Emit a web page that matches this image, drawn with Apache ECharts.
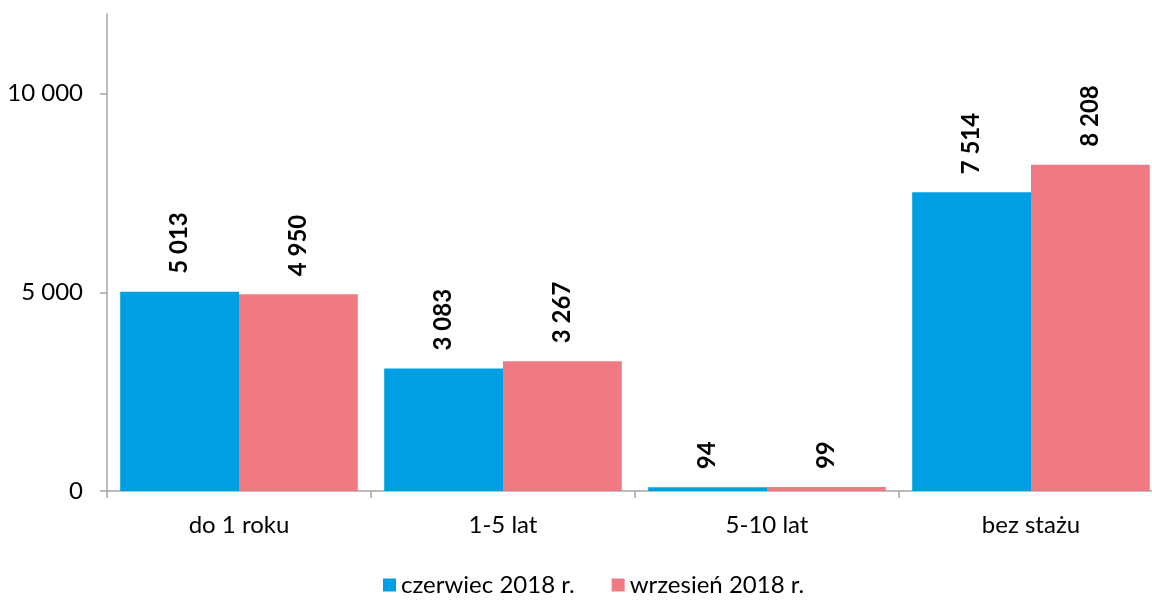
<!DOCTYPE html>
<html>
<head>
<meta charset="utf-8">
<script src="https://cdn.jsdelivr.net/npm/echarts@6/dist/echarts.min.js"></script>
<style>
  html, body { margin: 0; padding: 0; background: #fff; }
  #chart { width: 1152px; height: 603px; }
</style>
</head>
<body>
<div id="chart"></div>
<script>
// dane
var categories = ['do 1 roku', '1-5 lat', '5-10 lat', 'bez stażu']
var czerwiec = [5013, 3083, 94, 7514]
var wrzesien = [4950, 3267, 99, 8208]
var seriesNames = ['czerwiec 2018 r.', 'wrzesień 2018 r.']
var yTicks = [0, 5000, 10000]

var FONT = 'Lato'
var grey = '#A6A6A6'

// 5 013 -> spacja jako separator tysięcy
function fmt (v) {
  return String(v).replace(/\B(?=(\d{3})+(?!\d))/g, ' ')
}

var label = {
  show: true,
  position: 'top',
  rotate: 90,
  align: 'left',
  verticalAlign: 'middle',
  distance: 18,
  fontFamily: FONT,
  fontWeight: 'bold',
  fontSize: 24,
  color: '#000',
  formatter: function (p) { return fmt(p.value) }
}

var chart = echarts.init(document.getElementById('chart'))
chart.setOption({
  animation: false,
  color: ['#009FE3', '#F07A83'],
  grid: { left: 107, right: -11, top: 14, bottom: 112, containLabel: false, outerBoundsMode: 'none' },
  legend: {
    bottom: 1,
    left: 378,
    itemWidth: 13,
    itemHeight: 13,
    itemGap: 37,
    icon: 'rect',
    textStyle: { fontFamily: FONT, fontSize: 24, color: '#000' },
    data: seriesNames
  },
  xAxis: {
    type: 'category',
    data: categories,
    axisLine: { lineStyle: { color: grey, width: 1.5 } },
    axisTick: { show: true, length: 7, lineStyle: { color: grey, width: 1.5 } },
    axisLabel: { margin: 22, fontFamily: FONT, fontSize: 24, color: '#000' }
  },
  yAxis: {
    type: 'value',
    min: 0,
    max: 12000,
    splitLine: { show: false },
    axisLine: { show: true, lineStyle: { color: grey, width: 1.5 } },
    axisTick: { show: true, length: 7, customValues: yTicks, lineStyle: { color: grey, width: 1.5 } },
    axisLabel: {
      customValues: yTicks,
      margin: 24,
      fontFamily: FONT,
      fontSize: 24,
      color: '#000',
      formatter: function (v) { return fmt(v) }
    }
  },
  series: [
    { name: seriesNames[0], type: 'bar', data: czerwiec, barGap: '0%', barCategoryGap: '10%', label: label },
    { name: seriesNames[1], type: 'bar', data: wrzesien, barGap: '0%', barCategoryGap: '10%', label: label }
  ]
})
</script>
</body>
</html>
